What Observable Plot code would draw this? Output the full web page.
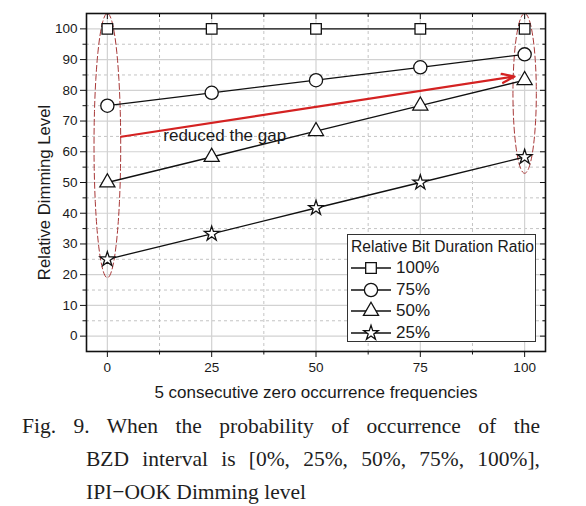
<!DOCTYPE html>
<html>
<head>
<meta charset="utf-8">
<script src="https://cdn.jsdelivr.net/npm/d3@7"></script>
<script src="https://cdn.jsdelivr.net/npm/@observablehq/plot@0.6"></script>
<style>
  html, body { margin: 0; padding: 0; background: white; }
  #wrap { position: relative; width: 586px; height: 506px; overflow: hidden; background: white; }
  #legend { position: absolute; left: 347px; top: 234px; width: 187px; height: 106px; border: 1px solid #333;
            background: white; font-family: 'Liberation Sans', Arial, sans-serif; color: #1a1a1a; box-sizing: content-box; }
  #legend .title { position: absolute; left: 3px; top: 2.4px; font-size: 15.6px; line-height: 20px; white-space: nowrap; }
  #legend .row { position: absolute; left: 2px; height: 20px; display: flex; align-items: center; white-space: nowrap; }
  #legend .row span { font-size: 17px; margin-left: 4px; line-height: 20px; }
  .cap { position: absolute; font-family: 'Liberation Serif', 'DejaVu Serif', serif; font-size: 21.5px; color: #1e1e1e;
         line-height: 33px; white-space: nowrap; }
  .cap.j { text-align: justify; text-align-last: justify; white-space: normal; }
</style>
</head>
<body>
<div id="wrap"></div>
<script>
// ---- data ----
const xValues = [0, 25, 50, 75, 100];
const ratioLabels = ["100%", "75%", "50%", "25%"];
const ratioSymbols = ["square", "circle", "triangle", "star"];
const level100 = [100, 100, 100, 100, 100];
const level75 = [75, 79.2, 83.3, 87.5, 91.7];
const level50 = [50, 58.3, 66.7, 75, 83.3];
const level25 = [25, 33.3, 41.7, 50, 58.3];

// ---- ticks ----
const xTicks = [0, 25, 50, 75, 100];
const xMinorTicks = [12.5, 37.5, 62.5, 87.5];
const yTicks = [0, 10, 20, 30, 40, 50, 60, 70, 80, 90, 100];
const yMinorTicks = [5, 15, 25, 35, 45, 55, 65, 75, 85, 95];

// ---- text ----
const xLabel = "5 consecutive zero occurrence frequencies";
const yLabel = "Relative Dimming Level";
const legendTitle = "Relative Bit Duration Ratio";
const annotationText = "reduced the gap";
const captionLines = [
  "Fig. 9. When the probability of occurrence of the",
  "BZD interval is [0%, 25%, 50%, 75%, 100%],",
  "IPI\u2212OOK Dimming level"
];

// ---- annotations (data units) ----
const arrowStart = [3.3, 64.9];
const arrowEnd = [97.6, 84.5];
const annotationPos = [13.4, 65.2];
const ellipseCx = [0, 100];
const ellipseCy = [62, 79];
const ellipseRx = [3.2, 2.8];
const ellipseRy = [43, 26];

// build tables
const seriesValues = [level100, level75, level50, level25];
const rows = [];
seriesValues.forEach((vals, s) => vals.forEach((v, i) => rows.push({x: xValues[i], y: v, series: ratioLabels[s]})));
const symbolR = {square: 6, circle: 6.6, triangle: 5.6, star: 4.6};

const ellipsePts = [];
ellipseCx.forEach((cx, k) => {
  d3.range(0, 73).forEach(j => {
    const t = j / 72 * 2 * Math.PI;
    ellipsePts.push({k, x: cx + ellipseRx[k] * Math.sin(t), y: ellipseCy[k] + ellipseRy[k] * Math.cos(t)});
  });
});

const tickFont = 13.5;
const marks = [
  Plot.gridX(xMinorTicks, {stroke: "#c4c4c4", strokeOpacity: 1, strokeDasharray: "3,3"}),
  Plot.gridY(yMinorTicks, {stroke: "#c4c4c4", strokeOpacity: 1, strokeDasharray: "3,3"}),
  Plot.gridX(xTicks, {stroke: "#d2d2d2", strokeOpacity: 1, strokeWidth: 1.2}),
  Plot.gridY(yTicks, {stroke: "#d2d2d2", strokeOpacity: 1, strokeWidth: 1.2}),
  Plot.line(ellipsePts, {x: "x", y: "y", z: "k", stroke: "#a83838", strokeWidth: 1, strokeDasharray: "6,3"}),
  Plot.line(rows, {x: "x", y: "y", z: "series", stroke: "#111", strokeWidth: 1.3}),
  Plot.arrow([{x1: arrowStart[0], y1: arrowStart[1], x2: arrowEnd[0], y2: arrowEnd[1]}],
    {x1: "x1", y1: "y1", x2: "x2", y2: "y2", stroke: "#d42222", strokeWidth: 2.2, headLength: 9, headAngle: 40}),
  Plot.text([annotationText], {x: annotationPos[0], y: annotationPos[1], textAnchor: "start", fontSize: 17,
    fill: "#1a1a1a", fontFamily: "'Liberation Sans', Arial, sans-serif"}),
  ...ratioLabels.map((lab, s) => Plot.dot(rows.filter(d => d.series === lab), {
    x: "x", y: "y", symbol: ratioSymbols[s], r: symbolR[ratioSymbols[s]], fill: "white", stroke: "#111", strokeWidth: 1.3
  })),
  // axes
  Plot.axisX(xTicks, {anchor: "bottom", tickSize: 6, tickPadding: 5, label: null, fontSize: tickFont, stroke: "#111", fill: "#1a1a1a"}),
  Plot.axisX(xMinorTicks, {anchor: "bottom", tickSize: 3.5, label: null, fill: "none", stroke: "#111"}),
  Plot.axisX(xTicks, {anchor: "top", tickSize: -5, label: null, fill: "none", stroke: "#111"}),
  Plot.axisX(xMinorTicks, {anchor: "top", tickSize: -3, label: null, fill: "none", stroke: "#111"}),
  Plot.axisY(yTicks, {anchor: "left", tickSize: 6, tickPadding: 3, label: null, fontSize: tickFont, stroke: "#111", fill: "#1a1a1a"}),
  Plot.axisY(yMinorTicks, {anchor: "left", tickSize: 3.5, label: null, fill: "none", stroke: "#111"}),
  Plot.axisY(yTicks, {anchor: "right", tickSize: -6, label: null, fill: "none", stroke: "#111"}),
  Plot.axisY(yMinorTicks, {anchor: "right", tickSize: -3.5, label: null, fill: "none", stroke: "#111"}),
  Plot.frame({stroke: "#111", strokeWidth: 1.6}),
  Plot.text([xLabel], {frameAnchor: "bottom", textAnchor: "middle", dy: 46, fontSize: 17, fill: "#1a1a1a"}),
  Plot.text([yLabel], {frameAnchor: "left", textAnchor: "middle", dx: -42, dy: 10, rotate: -90, fontSize: 16.7, fill: "#1a1a1a"})
];

const chart = Plot.plot({
  width: 586, height: 405,
  marginLeft: 86, marginRight: 41, marginTop: 13, marginBottom: 54,
  x: {domain: [-5, 105]},
  y: {domain: [-5, 105]},
  style: {fontFamily: "'Liberation Sans', Arial, sans-serif", fontSize: "13.5px", color: "#1a1a1a", background: "white", overflow: "visible"},
  marks
});
const wrap = document.getElementById("wrap");
wrap.appendChild(chart);

// legend overlay
const legend = document.createElement("div");
legend.id = "legend";
const t = document.createElement("div");
t.className = "title";
t.textContent = legendTitle;
legend.appendChild(t);
const symMap = {square: d3.symbolSquare, circle: d3.symbolCircle, triangle: d3.symbolTriangle, star: d3.symbolStar};
ratioLabels.forEach((lab, i) => {
  const row = document.createElement("div");
  row.className = "row";
  row.style.top = (33.4 + i * 21.5 - 10) + "px";
  const sym = ratioSymbols[i];
  const r = symbolR[sym];
  const path = d3.symbol(symMap[sym], r * r * Math.PI)();
  row.innerHTML = `<svg width="42" height="20"><line x1="1" x2="41" y1="10" y2="10" stroke="#111" stroke-width="1.3"/>` +
    `<path d="${path}" transform="translate(21,10)" fill="white" stroke="#111" stroke-width="1.3"/></svg><span>${lab}</span>`;
  legend.appendChild(row);
});
wrap.appendChild(legend);

// caption
const capPos = [[22, 540], [86, 540], [86, null]];
captionLines.forEach((line, i) => {
  const d = document.createElement("div");
  d.className = "cap" + (i < 2 ? " j" : "");
  d.style.left = capPos[i][0] + "px";
  if (capPos[i][1]) d.style.width = (capPos[i][1] - capPos[i][0]) + "px";
  d.style.top = (410 + i * 33) + "px";
  d.textContent = line;
  wrap.appendChild(d);
});
</script>
</body>
</html>
